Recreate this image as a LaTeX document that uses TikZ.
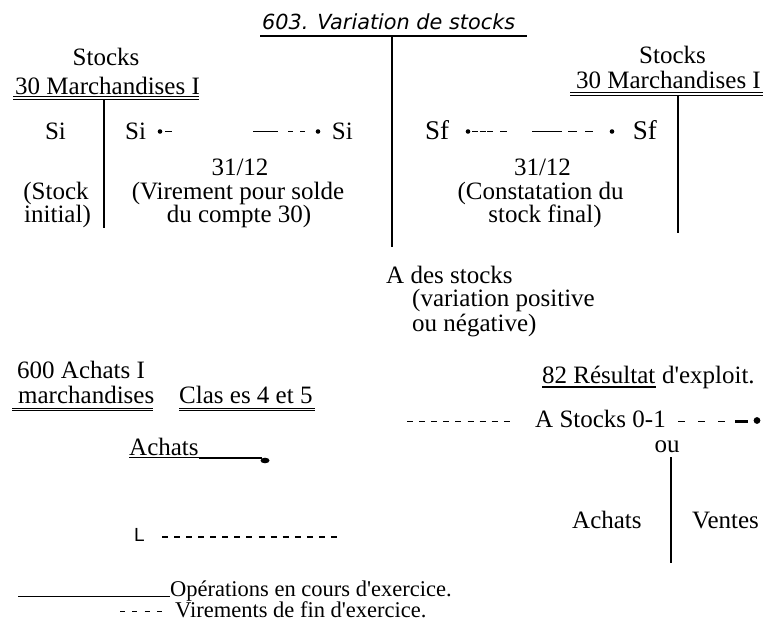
\documentclass[tikz,border=0pt]{standalone}
\usepackage{fontspec}
\setmainfont{Liberation Serif}
\newfontfamily\titlefont{DejaVu Sans}
\newfontfamily\lfont{Liberation Sans}
\newcommand{\sq}{\textquotesingle}
\begin{document}
\begin{tikzpicture}[x=1pt,y=-1pt,
  txt/.style={inner sep=0pt, font=\fontsize{25}{22}\selectfont},
  ttl/.style={inner sep=0pt, font=\titlefont\itshape\fontsize{20.8}{22}\selectfont},
  leg/.style={inner sep=0pt, font=\fontsize{22.5}{22}\selectfont},
  sfont/.style={inner sep=0pt, font=\lfont\fontsize{19}{20}\selectfont},
  uline/.style={line width=1pt},
  hyph/.style={line width=1.3pt},
  tbar/.style={line width=1.6pt},
  dotmark/.style={fill=black}
]
\useasboundingbox (0,0) rectangle (766,621);

% ---- 603 account ----
\node[ttl, anchor=base west] (title) at (262,29.5) {603. Variation de stocks};
\coordinate (tul) at (260,36);
\coordinate (tur) at (527,36);
\draw[line width=1.3pt] (tul) -- (tur);
\coordinate (tvt) at (392,36);
\coordinate (tvb) at (392,247);
\draw[line width=2.6pt] (tvt) -- (tvb);

% ---- left stocks account ----
\node[txt, anchor=base] (stL) at (106,65) {Stocks};
\node[txt, anchor=base west] (mL) at (15,94) {30 Marchandises I};
\draw[uline] (13,96.8) -- (199,96.8);
\draw[uline] (13,99.3) -- (199,99.3);
\coordinate (lvt) at (104,99);
\coordinate (lvb) at (104,228);
\draw[tbar] (lvt) -- (lvb);
\node[txt, anchor=base] (siA) at (55.5,139) {Si};
\node[txt, anchor=base] (stkA) at (56,199) {(Stock};
\node[txt, anchor=base] (stkB) at (57.5,222) {initial)};
\node[txt, anchor=base west] (siB) at (125,139) {Si};
\node[txt, anchor=base east] (siC) at (353,139) {Si};
\coordinate (b1) at (160,131.5);
\coordinate (b2) at (318,131.5);
\fill[dotmark] (b1) circle (2.3pt);
\fill[dotmark] (b2) circle (2.3pt);
\draw[hyph, dash pattern=on 0pt off 5pt on 7pt off 81pt on 25pt off 10pt on 5pt off 7pt on 5pt off 13pt] (b1) -- (b2);
\node[txt, anchor=base] (d1) at (240,175) {31/12};
\node[txt, anchor=base] (v1) at (238,199) {(Virement pour solde};
\node[txt, anchor=base] (v2) at (239,222) {du compte 30)};

% ---- right stocks account ----
\node[txt, anchor=base] (stR) at (672.5,63) {Stocks};
\node[txt, anchor=base east] (mR) at (761,88) {30 Marchandises I};
\draw[uline] (570,92.5) -- (763,92.5);
\draw[uline] (570,95) -- (763,95);
\coordinate (rvt) at (678,95);
\coordinate (rvb) at (678,233);
\draw[line width=1.4pt] (rvt) -- (rvb);
\node[txt, anchor=base west, font=\fontsize{27}{22}\selectfont] (sfL) at (425,139) {Sf};
\node[txt, anchor=base east, font=\fontsize{27}{22}\selectfont] (sfR) at (657,139) {Sf};
\coordinate (b3) at (468,131.5);
\coordinate (b4) at (612,131.5);
\fill[dotmark] (b3) circle (2.3pt);
\fill[dotmark] (b4) circle (2.3pt);
\draw[hyph, dash pattern=on 0pt off 4pt on 6pt off 1.5pt on 6pt off 1.5pt on 6pt off 7pt on 7pt off 25pt on 30pt off 6pt on 9pt off 8pt on 8pt off 19pt] (b3) -- (b4);
\node[txt, anchor=base] (d2) at (542.5,175) {31/12};
\node[txt, anchor=base] (c1) at (540.5,199) {(Constatation du};
\node[txt, anchor=base] (c2) at (545,222) {stock final)};

% ---- variation text ----
\node[txt, anchor=base west] (ades) at (386,283) {A des stocks};
\node[txt, anchor=base west] (vp1) at (412,306.5) {(variation positive};
\node[txt, anchor=base west] (vp2) at (412,331) {ou négative)};

% ---- 82 resultat ----
\node[txt, anchor=base west] (res) at (542,383) {82 Résultat};
\node[txt, anchor=base west] (expl) at ([xshift=6.25pt]res.base east) {d\sq exploit.};
\draw[line width=1.2pt] ([yshift=-4pt]res.base west) -- ([yshift=-4pt]res.base east);
\node[txt, anchor=base west] (ast) at (535,427) {A Stocks 0-1};
\coordinate (dl1) at (407,421.5);
\coordinate (dl2) at (510,421.5);
\draw[hyph, dash pattern=on 6pt off 6.1pt] (dl1) -- (dl2);
\coordinate (dr1) at (678,421.5);
\coordinate (dr2) at (725,421.5);
\draw[hyph, dash pattern=on 7pt off 13pt] (dr1) -- (dr2);
\coordinate (dt1) at (735,421);
\coordinate (dt2) at (748,421);
\draw[line width=3pt] (dt1) -- (dt2);
\coordinate (b5) at (757,420.5);
\fill[dotmark] (b5) circle (3.4pt);
\node[txt, anchor=base] (ou) at (667,452) {ou};
\coordinate (ovt) at (671,457);
\coordinate (ovb) at (671,563);
\draw[line width=1.5pt] (ovt) -- (ovb);
\node[txt, anchor=base west] (achR) at (572,528) {Achats};
\node[txt, anchor=base west] (ven) at (692,528) {Ventes};

% ---- 600 achats ----
\node[txt, anchor=base west] (a600) at (17,378) {600 Achats I};
\node[txt, anchor=base west] (marc) at (18,403) {marchandises};
\draw[uline] (12,408) -- (153,408);
\draw[uline] (12,410.6) -- (153,410.6);
\node[txt, anchor=base west] (cla) at (179,403) {Clas es 4 et 5};
\draw[uline] (179,408) -- (315,408);
\draw[uline] (179,410.6) -- (315,410.6);
\node[txt, anchor=base west] (achL) at (129,455) {Achats};
\draw[line width=1.3pt] (129,457.5) -- (achL.base east |- 0,457.5);
\coordinate (ae) at (262,457.5);
\draw[line width=2pt] (achL.base east |- 0,457.5) -- (ae);
\coordinate (b6) at (265,460.5);
\fill[dotmark] (b6) ellipse (4.5pt and 2.8pt);
\node[sfont, anchor=base west] (L) at (134,541) {L};
\coordinate (dL1) at (162,537);
\coordinate (dL2) at (337,537);
\draw[line width=1.1pt, dash pattern=on 6pt off 6.07pt] (dL1) -- (dL2);

% ---- legend ----
\coordinate (ls1) at (18,596);
\node[leg, anchor=base west] (op) at (170,596) {Opérations en cours d\sq exercice.};
\draw[line width=1pt] (ls1) -- (op.base west);
\coordinate (ld1) at (120,611);
\coordinate (ld2) at (162,611);
\draw[line width=1pt, dash pattern=on 5pt off 7.33pt] (ld1) -- (ld2);
\node[leg, anchor=base west] (vir) at (175,617) {Virements de fin d\sq exercice.};
\end{tikzpicture}
\end{document}
